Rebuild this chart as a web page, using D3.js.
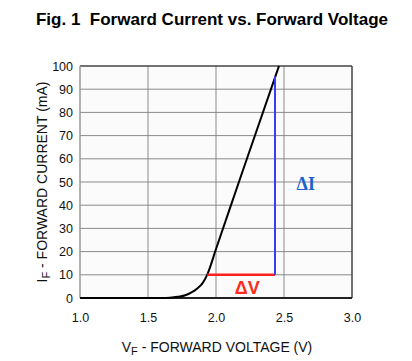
<!DOCTYPE html>
<html>
<head>
<meta charset="utf-8">
<script src="https://cdn.jsdelivr.net/npm/d3@7"></script>
<style>
  body { margin: 0; background: #fff; }
  svg { font-family: "Liberation Sans", Arial, sans-serif; }
</style>
</head>
<body>
<div id="chart"></div>
<script>
// forward characteristic (V, mA)
const voltage = [1.0, 1.6, 1.66, 1.72, 1.78, 1.82, 1.86, 1.9, 1.935, 2.0, 2.2, 2.463];
const current = [0, 0, 0.1, 0.5, 1.3, 2.4, 4.0, 6.3, 10, 21.1, 55.4, 100];
const xTicks = [1.0, 1.5, 2.0, 2.5, 3.0];
const yTicks = [0, 10, 20, 30, 40, 50, 60, 70, 80, 90, 100];
const deltaV = [1.935, 2.434];   // red segment at 10 mA
const deltaI = [10, 95.5];       // blue segment at 2.434 V

const W = 412, H = 361;
const m = { left: 80, top: 66, right: 60, bottom: 63 };
const pw = W - m.left - m.right, ph = H - m.top - m.bottom;

const svg = d3.select("#chart").append("svg")
  .attr("width", W).attr("height", H);

svg.append("text")
  .attr("x", 212).attr("y", 25)
  .attr("text-anchor", "middle")
  .style("white-space", "pre")
  .style("font-size", "17px").style("font-weight", "bold")
  .text("Fig. 1  Forward Current vs. Forward Voltage");

const g = svg.append("g").attr("transform", `translate(${m.left},${m.top})`);

const x = d3.scaleLinear().domain([1, 3]).range([0, pw]);
const y = d3.scaleLinear().domain([0, 100]).range([ph, 0]);

g.append("rect").attr("width", pw).attr("height", ph).attr("fill", "#fbfbfb");

// grid
g.selectAll(".vg").data(xTicks.slice(1, -1)).enter().append("line")
  .attr("x1", d => x(d)).attr("x2", d => x(d))
  .attr("y1", 0).attr("y2", ph)
  .attr("stroke", "#8a8a8a").attr("stroke-width", 1);
g.selectAll(".hg").data(yTicks.slice(1, -1)).enter().append("line")
  .attr("x1", 0).attr("x2", pw)
  .attr("y1", d => y(d)).attr("y2", d => y(d))
  .attr("stroke", "#8a8a8a").attr("stroke-width", 1);

// frame
g.append("line").attr("x1", 0).attr("x2", pw).attr("y1", 0).attr("y2", 0)
  .attr("stroke", "#444").attr("stroke-width", 1.5);
g.append("line").attr("x1", pw).attr("x2", pw).attr("y1", 0).attr("y2", ph)
  .attr("stroke", "#444").attr("stroke-width", 1.5);
g.append("line").attr("x1", 0).attr("x2", 0).attr("y1", 0).attr("y2", ph)
  .attr("stroke", "#999").attr("stroke-width", 1.5);
g.append("line").attr("x1", 0).attr("x2", pw).attr("y1", ph).attr("y2", ph)
  .attr("stroke", "#222").attr("stroke-width", 2);

// axes (labels only)
const xAxis = g.append("g").attr("transform", `translate(0,${ph})`)
  .call(d3.axisBottom(x).tickValues(xTicks).tickFormat(d3.format(".1f")).tickSize(0).tickPadding(15));
const yAxis = g.append("g")
  .call(d3.axisLeft(y).tickValues(yTicks).tickSize(0).tickPadding(7));
[xAxis, yAxis].forEach(a => {
  a.select(".domain").remove();
  a.selectAll("text").style("font-size", "12.5px").attr("fill", "#111")
    .style("font-family", "'Liberation Sans', Arial, sans-serif");
});

// curve
const pts = voltage.map((v, i) => [v, current[i]]);
const line = d3.line().x(d => x(d[0])).y(d => y(d[1])).curve(d3.curveMonotoneX);
g.append("path").datum(pts).attr("d", line)
  .attr("fill", "none").attr("stroke", "#000").attr("stroke-width", 2);

// delta markers
g.append("line")
  .attr("x1", x(deltaV[0])).attr("x2", x(deltaV[1]))
  .attr("y1", y(deltaI[0])).attr("y2", y(deltaI[0]))
  .attr("stroke", "#ff2020").attr("stroke-width", 2.5);
g.append("line")
  .attr("x1", x(deltaV[1])).attr("x2", x(deltaV[1]))
  .attr("y1", y(deltaI[0])).attr("y2", y(deltaI[1]))
  .attr("stroke", "#3a3aff").attr("stroke-width", 2);

g.append("text")
  .attr("x", x(2.23)).attr("y", y(deltaI[0]) + 19)
  .attr("text-anchor", "middle")
  .attr("fill", "#ff2a1a")
  .style("font-size", "18px").style("font-weight", "bold")
  .text("ΔV");
g.append("text")
  .attr("x", x(2.66)).attr("y", y(46.5))
  .attr("text-anchor", "middle")
  .attr("fill", "#1a60d0")
  .style("font-size", "18px").style("font-weight", "bold")
  .style("font-family", "'Liberation Serif', serif")
  .text("ΔI");

// axis titles
const xt = svg.append("text")
  .attr("x", 217).attr("y", 352)
  .attr("text-anchor", "middle")
  .style("font-size", "14px").attr("fill", "#111");
xt.append("tspan").text("V");
xt.append("tspan").attr("dy", 3).style("font-size", "11px").text("F");
xt.append("tspan").attr("dy", -3).text(" - FORWARD VOLTAGE (V)");

const yt = svg.append("text")
  .attr("transform", `translate(47,${m.top + ph / 2}) rotate(-90)`)
  .attr("text-anchor", "middle")
  .style("font-size", "14px").attr("fill", "#111");
yt.append("tspan").text("I");
yt.append("tspan").attr("dy", 3).style("font-size", "11px").text("F");
yt.append("tspan").attr("dy", -3).text(" - FORWARD CURRENT (mA)");
</script>
</body>
</html>
